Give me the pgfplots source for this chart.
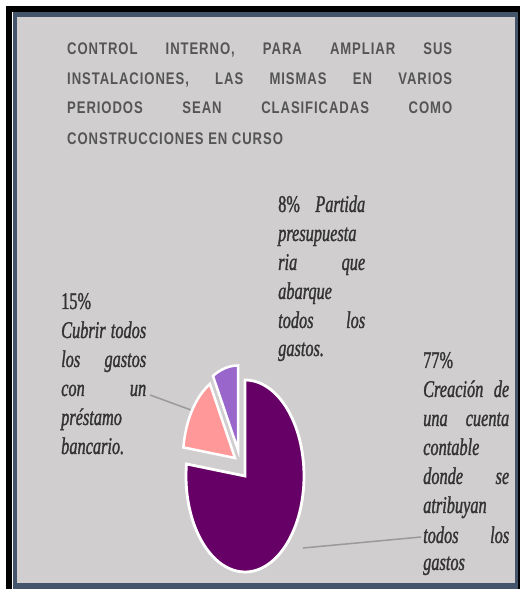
\documentclass[border=0pt]{standalone}
\usepackage{fontspec}
\usepackage{pgfplots}
\usepackage{pgfplotstable}
\pgfplotsset{compat=1.18}
\setmainfont{Liberation Serif}
\newfontfamily\titlefont{Liberation Sans}[FakeStretch=0.78, LetterSpace=5.5]
\newfontfamily\labfont{Liberation Serif}[FakeStretch=0.68, FakeBold=1.2]
\definecolor{bgc}{HTML}{D0CECF}
\definecolor{slate}{HTML}{44546A}
\definecolor{bigc}{HTML}{660066}
\definecolor{pinkc}{HTML}{FF9999}
\definecolor{lavc}{HTML}{9966CC}
\definecolor{titc}{HTML}{555555}
\definecolor{labc}{HTML}{333333}
\definecolor{leadc}{HTML}{9A9A9A}

\pgfplotstableread{
label pct
A 77
B 15
C 8
}\pietable
\pgfplotstablegetelem{0}{pct}\of\pietable \let\pA\pgfplotsretval
\pgfplotstablegetelem{1}{pct}\of\pietable \let\pB\pgfplotsretval
\pgfplotstablegetelem{2}{pct}\of\pietable \let\pC\pgfplotsretval
\pgfmathsetmacro\aS{90}
\pgfmathsetmacro\aA{90-3.6*\pA}
\pgfmathsetmacro\aB{\aA-3.6*\pB}
\pgfmathsetmacro\aC{\aB-3.6*\pC}

\newcommand\lab[3]{\node[anchor=base west, inner sep=0, text=labc, font=\labfont\fontsize{24}{26}\selectfont] at (axis cs:#1,#2) {#3};}
\newcommand\tit[3]{\node[anchor=base west, inner sep=0, text=titc, font=\titlefont\bfseries\fontsize{16.8}{20}\selectfont] at (axis cs:#1,#2) {#3};}

\begin{document}
\begin{tikzpicture}
\begin{axis}[
  at={(0,0)}, anchor=south west,
  width=520pt, height=589pt, scale only axis,
  xmin=0, xmax=520, ymin=0, ymax=589,
  hide axis, clip=false,
]
% frame
\fill[white] (axis cs:0,0) rectangle (axis cs:520,589);
\fill[black] (axis cs:6,0) rectangle (axis cs:520,583);
\fill[white] (axis cs:12,0) rectangle (axis cs:518,577);
\fill[slate] (axis cs:13,0) rectangle (axis cs:518,577);
\fill[bgc] (axis cs:17,6) rectangle (axis cs:515,572);

% title
\tit{67}{534}{\hbox to 385pt{CONTROL\hfill INTERNO,\hfill PARA\hfill AMPLIAR\hfill SUS}}
\tit{67}{504}{\hbox to 385pt{INSTALACIONES,\hfill LAS\hfill MISMAS\hfill EN\hfill VARIOS}}
\tit{67}{475}{\hbox to 385pt{PERIODOS\hfill SEAN\hfill CLASIFICADAS\hfill COMO}}
\tit{67}{444}{CONSTRUCCIONES EN CURSO}

% leaders
\draw[leadc, line width=1.5pt] (axis cs:150,194) -- (axis cs:191,179);
\draw[leadc, line width=1.5pt] (axis cs:303,41) -- (axis cs:421,52);

% pie slices
\filldraw[fill=bigc, draw=white, line width=2.8pt] (axis cs:245,113) -- +(\aS:59pt and 96pt) arc[start angle=\aS, end angle=\aA, x radius=59pt, y radius=96pt] -- cycle;
\filldraw[fill=pinkc, draw=white, line width=2.5pt] (axis cs:235,131) -- +(\aA:52pt and 84.5pt) arc[start angle=\aA, end angle=\aB, x radius=52pt, y radius=84.5pt] -- cycle;
\filldraw[fill=lavc, draw=white, line width=2.5pt] (axis cs:238,139) -- +(\aB:52pt and 84.5pt) arc[start angle=\aB, end angle=\aC, x radius=52pt, y radius=84.5pt] -- cycle;

% label 8%
\lab{278}{377}{\hbox to 87pt{8\%\hfill\itshape Partida}}
\lab{278}{348}{\itshape presupuesta}
\lab{278}{319}{\hbox to 87pt{\itshape ria\hfill que}}
\lab{278}{290}{\itshape abarque}
\lab{278}{261}{\hbox to 87pt{\itshape todos\hfill los}}
\lab{278}{233}{\itshape gastos.}

% label 15%
\lab{61}{280}{15\%}
\lab{61}{251}{\hbox to 85pt{\itshape Cubrir\hfill todos}}
\lab{61}{222}{\hbox to 85pt{\itshape los\hfill gastos}}
\lab{61}{193}{\hbox to 85pt{\itshape con\hfill un}}
\lab{61}{164}{\itshape préstamo}
\lab{61}{135}{\itshape bancario.}

% label 77%
\lab{423}{221}{77\%}
\lab{423}{192}{\hbox to 86pt{\itshape Creación\hfill de}}
\lab{423}{163}{\hbox to 86pt{\itshape una\hfill cuenta}}
\lab{423}{134}{\itshape contable}
\lab{423}{105}{\hbox to 86pt{\itshape donde\hfill se}}
\lab{423}{76}{\itshape atribuyan}
\lab{423}{46}{\hbox to 86pt{\itshape todos\hfill los}}
\lab{423}{19}{\itshape gastos}
\end{axis}
\end{tikzpicture}
\end{document}
